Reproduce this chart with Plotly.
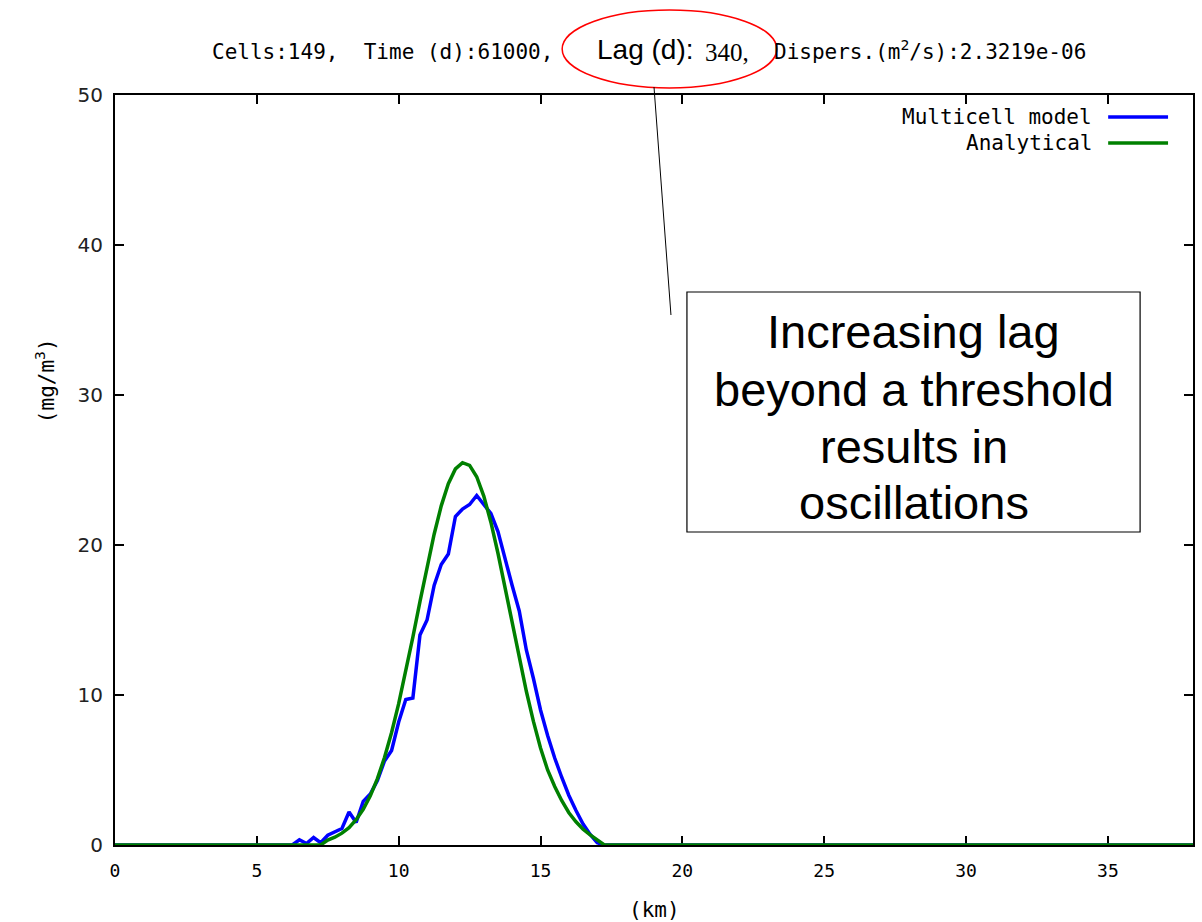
import plotly.graph_objects as go

# Distance along the channel (km) for the plume region, 0.25 km spacing
km_plume = [6.25, 6.5, 6.75, 7.0, 7.25, 7.5, 7.75, 8.0, 8.25, 8.5, 8.75, 9.0,
            9.25, 9.5, 9.75, 10.0, 10.25, 10.5, 10.75, 11.0, 11.25, 11.5, 11.75,
            12.0, 12.25, 12.5, 12.75, 13.0, 13.25, 13.5, 13.75, 14.0, 14.25,
            14.5, 14.75, 15.0, 15.25, 15.5, 15.75, 16.0, 16.25, 16.5, 16.75,
            17.0, 17.25]

# Multicell model concentration (mg/m3)
multicell = [0.0, 0.35, 0.1, 0.5, 0.15, 0.65, 0.85, 1.1, 2.2, 1.5, 2.9, 3.4,
             4.3, 5.6, 6.3, 8.2, 9.7, 9.8, 14.0, 15.0, 17.3, 18.7, 19.4,
             21.9, 22.4, 22.7, 23.3, 22.7, 22.1, 20.9, 19.0, 17.3, 15.6,
             13.0, 11.1, 9.0, 7.3, 5.8, 4.5, 3.3, 2.3, 1.4, 0.7,
             0.15, 0.0]

# Analytical solution (mg/m3)
analytical = [0.0, 0.0, 0.0, 0.0, 0.0, 0.33, 0.52, 0.79, 1.16, 1.69, 2.38, 3.28,
              4.43, 5.83, 7.5, 9.42, 11.56, 13.86, 16.22, 18.55, 20.72, 22.61, 24.09,
              25.07, 25.49, 25.31, 24.55, 23.26, 21.52, 19.45, 17.17, 14.8, 12.47,
              10.25, 8.24, 6.47, 5.0, 3.9, 2.95, 2.15, 1.55, 1.05, 0.68,
              0.35, 0.0]

# Domain ends, where both concentrations are zero
domain_start = 0.0
domain_end = 38.0

x_ticks = [0, 5, 10, 15, 20, 25, 30, 35]
y_ticks = [0, 10, 20, 30, 40, 50]

km_all = [domain_start] + km_plume + [domain_end]
blue_all = [0.0] + multicell + [0.0]
green_all = [0.0] + analytical + [0.0]

BLUE = "#0000ff"
GREEN = "#008000"
MONO = "DejaVu Sans Mono"

# Plot area in pixels
L, R, T, B = 115, 1195, 95, 845
W, H = 1202, 922


def px(x):
    return (x - L) / (R - L)


def py(y):
    return (B - y) / (B - T)


fig = go.Figure()
fig.add_trace(go.Scatter(x=km_all, y=blue_all, mode="lines",
                         line=dict(color=BLUE, width=3.5), name="Multicell model"))
fig.add_trace(go.Scatter(x=km_all, y=green_all, mode="lines",
                         line=dict(color=GREEN, width=3.5), name="Analytical"))

axis_common = dict(showline=True, linecolor="black", linewidth=2, mirror="ticks",
                   ticks="inside", ticklen=9, tickwidth=2, tickcolor="black",
                   showgrid=False, zeroline=False, layer="below traces")

fig.update_xaxes(range=[0, 38], tickvals=x_ticks, ticktext=[str(v) for v in x_ticks],
                 tickfont=dict(family=MONO, size=18, color="black"),
                 ticklabelstandoff=8, **axis_common)
fig.update_yaxes(range=[0, 50], tickvals=y_ticks, ticktext=[str(v) for v in y_ticks],
                 tickfont=dict(family="DejaVu Sans", size=20, color="#222222"),
                 ticklabelstandoff=6, **axis_common)

annotations = []


def text(x, y, s, size, family=MONO, xanchor="center", color="black", angle=0):
    annotations.append(dict(x=px(x), y=py(y), xref="paper", yref="paper", text=s,
                            showarrow=False, xanchor=xanchor, yanchor="middle",
                            textangle=angle,
                            font=dict(family=family, size=size, color=color)))


# Header line
text(210, 52, "Cells:149,  Time (d):61000,", 21, xanchor="left")
text(596, 50, "Lag (d):", 28, family="Liberation Sans", xanchor="left")
text(704, 52, "340,", 25, family="Liberation Serif", xanchor="left")
text(773, 50, "Dispers.(m<sup>2</sup>/s):2.3219e-06", 21, xanchor="left")

# Axis titles
text(655, 910, "(km)", 21)
text(45, 381, "(mg/m<sup>3</sup>)", 21, angle=-90)

# Legend
text(1096, 117, "Multicell model", 21, xanchor="right")
text(1096, 143, "Analytical", 21, xanchor="right")

# Callout text
for line, yb in [("Increasing lag", 331), ("beyond a threshold", 389),
                 ("results in", 446), ("oscillations", 502)]:
    text(915, yb, line, 47, family="Liberation Sans")

shapes = [
    # legend samples
    dict(type="line", xref="paper", yref="paper", x0=px(1110), x1=px(1170),
         y0=py(117), y1=py(117), line=dict(color=BLUE, width=3.5)),
    dict(type="line", xref="paper", yref="paper", x0=px(1110), x1=px(1170),
         y0=py(143), y1=py(143), line=dict(color=GREEN, width=3.5)),
    # highlight ellipse around the lag value
    dict(type="circle", xref="paper", yref="paper", x0=px(563), x1=px(778),
         y0=py(88), y1=py(10), line=dict(color="#ff0000", width=1.5)),
    # pointer from ellipse to callout
    dict(type="line", xref="paper", yref="paper", x0=px(655), x1=px(672),
         y0=py(87), y1=py(315), line=dict(color="black", width=1)),
    # callout box
    dict(type="rect", xref="paper", yref="paper", x0=px(688), x1=px(1142),
         y0=py(532), y1=py(292), line=dict(color="black", width=1.2),
         fillcolor="white", layer="above"),
]

fig.update_layout(width=W, height=H, margin=dict(l=L, r=W - R, t=T, b=H - B),
                  paper_bgcolor="white", plot_bgcolor="white", showlegend=False,
                  annotations=annotations, shapes=shapes)

fig.write_html("out.html")
